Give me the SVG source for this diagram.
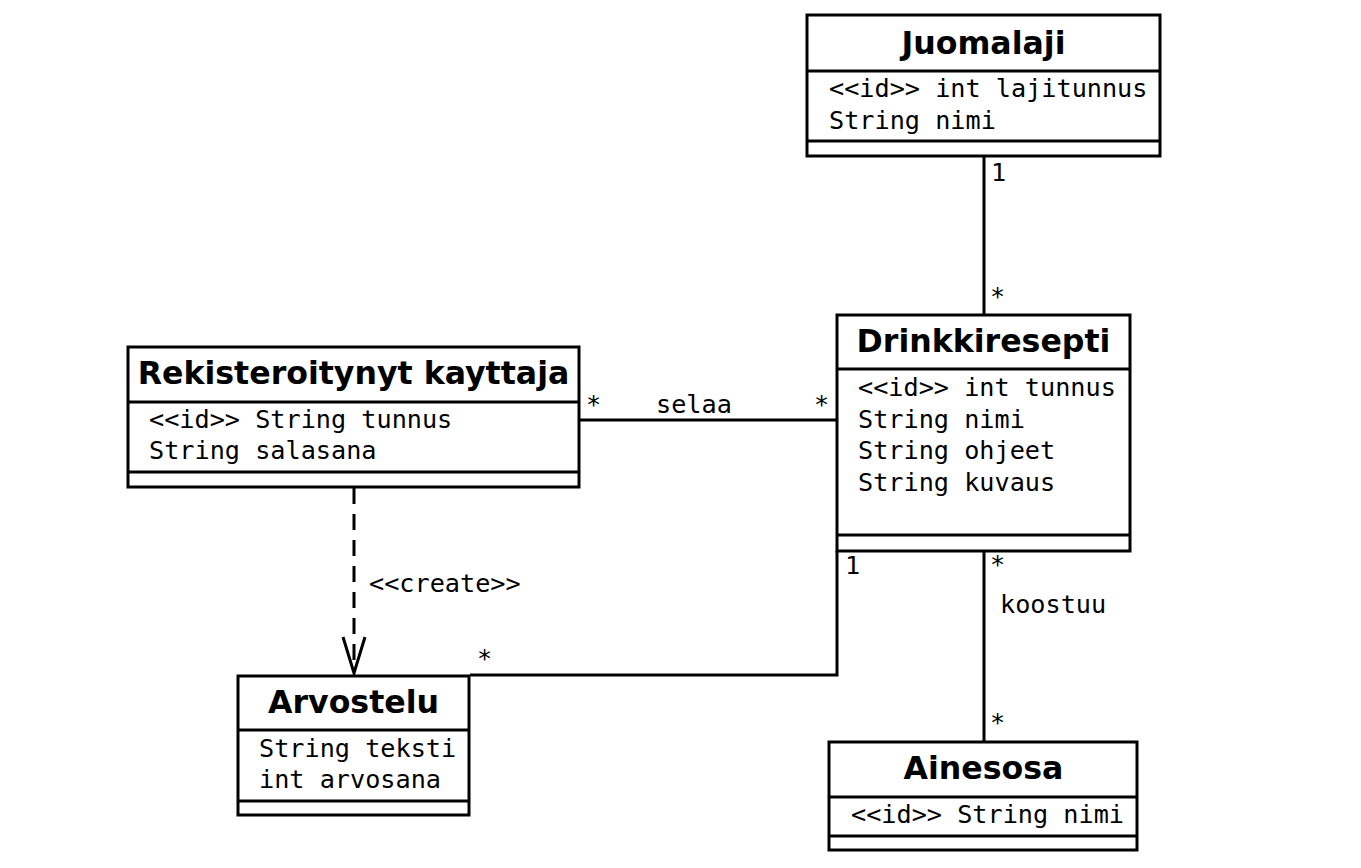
<svg xmlns="http://www.w3.org/2000/svg" width="1361" height="868" viewBox="0 0 1361 868">
<style>
.box{fill:#fff;stroke:#000;stroke-width:3}
.div{stroke:#000;stroke-width:3}
.title{font-family:"DejaVu Sans",sans-serif;font-weight:bold;font-size:31.6px;text-anchor:middle;fill:#000}
.attr{font-family:"DejaVu Sans Mono",monospace;font-size:25.2px;fill:#000}
.lbl{font-family:"DejaVu Sans Mono",monospace;font-size:25.2px;fill:#000}
.conn{fill:none;stroke:#000;stroke-width:3}
</style>
<rect width="1361" height="868" fill="#fff"/>
<g id="connectors">
<line class="conn" x1="984" y1="157" x2="984" y2="314"/>
<line class="conn" x1="580" y1="420" x2="837" y2="420"/>
<line class="conn" x1="354" y1="488" x2="354" y2="672" stroke-dasharray="16,10"/>
<polyline class="conn" points="343,637 354,673 365,637"/>
<polyline class="conn" points="837,551 837,675 470,675"/>
<line class="conn" x1="984" y1="551" x2="984" y2="741"/>
<text class="lbl" x="991" y="181">1</text>
<text class="lbl" x="990" y="305">*</text>
<text class="lbl" x="586" y="413">*</text>
<text class="lbl" x="656" y="413">selaa</text>
<text class="lbl" x="814" y="413">*</text>
<text class="lbl" x="369" y="592">&lt;&lt;create&gt;&gt;</text>
<text class="lbl" x="845" y="574">1</text>
<text class="lbl" x="477" y="667">*</text>
<text class="lbl" x="990" y="573">*</text>
<text class="lbl" x="1000" y="613">koostuu</text>
<text class="lbl" x="990" y="731">*</text>
</g>
<g id="juomalaji">
<rect class="box" x="807" y="15" width="353" height="141"/>
<line class="div" x1="807" y1="71" x2="1160" y2="71"/>
<line class="div" x1="807" y1="141" x2="1160" y2="141"/>
<text class="title" x="983.5" y="54">Juomalaji</text>
<text class="attr" x="829" y="97">&lt;&lt;id&gt;&gt; int lajitunnus</text>
<text class="attr" x="829" y="129">String nimi</text>
</g>
<g id="rekisteroitynyt">
<rect class="box" x="128" y="347" width="451" height="140"/>
<line class="div" x1="128" y1="402" x2="579" y2="402"/>
<line class="div" x1="128" y1="472" x2="579" y2="472"/>
<text class="title" x="353.5" y="384">Rekisteroitynyt kayttaja</text>
<text class="attr" x="149" y="428">&lt;&lt;id&gt;&gt; String tunnus</text>
<text class="attr" x="149" y="459">String salasana</text>
</g>
<g id="drinkkiresepti">
<rect class="box" x="837" y="315" width="293" height="236"/>
<line class="div" x1="837" y1="369" x2="1130" y2="369"/>
<line class="div" x1="837" y1="535" x2="1130" y2="535"/>
<text class="title" x="983.5" y="352">Drinkkiresepti</text>
<text class="attr" x="858" y="396">&lt;&lt;id&gt;&gt; int tunnus</text>
<text class="attr" x="858" y="428">String nimi</text>
<text class="attr" x="858" y="459">String ohjeet</text>
<text class="attr" x="858" y="491">String kuvaus</text>
</g>
<g id="arvostelu">
<rect class="box" x="238" y="676" width="231" height="139"/>
<line class="div" x1="238" y1="730" x2="469" y2="730"/>
<line class="div" x1="238" y1="801" x2="469" y2="801"/>
<text class="title" x="353.5" y="713">Arvostelu</text>
<text class="attr" x="259" y="757">String teksti</text>
<text class="attr" x="259" y="788">int arvosana</text>
</g>
<g id="ainesosa">
<rect class="box" x="829" y="742" width="308" height="108"/>
<line class="div" x1="829" y1="797" x2="1137" y2="797"/>
<line class="div" x1="829" y1="836" x2="1137" y2="836"/>
<text class="title" x="983.5" y="779">Ainesosa</text>
<text class="attr" x="851" y="823">&lt;&lt;id&gt;&gt; String nimi</text>
</g>
</svg>
